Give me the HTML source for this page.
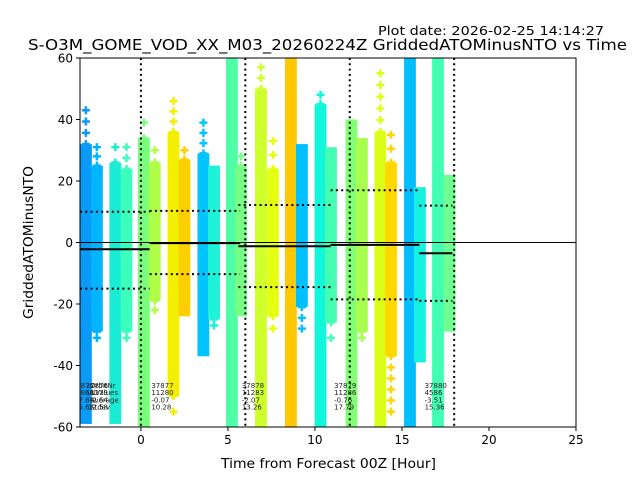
<!DOCTYPE html>
<html><head><meta charset="utf-8">
<style>
html,body{margin:0;padding:0;background:#fff;}
svg{display:block;font-family:"DejaVu Sans","Liberation Sans",sans-serif;}
</style></head>
<body>
<svg id="chart" width="640" height="480" viewBox="0 0 640 480">
  <rect width="640" height="480" fill="#fff"/>
  <text x="604" y="35" font-size="12.5" text-anchor="end" textLength="226" lengthAdjust="spacingAndGlyphs" fill="#000">Plot date: 2026-02-25 14:14:27</text>
  <text x="28" y="50" font-size="15.5" textLength="599" lengthAdjust="spacingAndGlyphs" fill="#000">S-O3M_GOME_VOD_XX_M03_20260224Z GriddedATOMinusNTO vs Time</text>
  <defs><clipPath id="plotclip"><rect x="80" y="58" width="496" height="369"/></clipPath></defs>
  <g id="marks" clip-path="url(#plotclip)"></g>
  <g id="axes"></g>
  <text x="221" y="468" font-size="13" textLength="215" lengthAdjust="spacingAndGlyphs">Time from Forecast 00Z [Hour]</text>
  <text x="0" y="0" font-size="13" textLength="153" lengthAdjust="spacingAndGlyphs" transform="translate(33 319) rotate(-90)">GriddedATOMinusNTO</text>
</svg>
<script>
// ---- data ----
const colHours = [-3.16,-2.53,-1.47,-0.83,0.17,0.8,1.87,2.5,3.59,4.2,5.23,5.75,6.9,7.59,8.62,9.25,10.32,10.92,12.1,12.7,13.76,14.37,15.46,16.03,17.07,17.73];
const colLow   = [-59,-29,-59,-29,-60,-19,-50,-24,-37,-25,-60,-24,-60,-24,-60,-21,-60,-26,-60,-29,-60,-37,-60,-39,-60,-29];
const colHigh  = [32,25,26,24,34,26,36,27,29,25,60,25,50,24,60,32,45,31,40,34,36,26,60,18,60,22];
const colOutHigh = [43,31,31,31,39,30,46,30,39,25,60,28,57,33,60,33,48,31,40,35,55,35,60,18,60,22];
const colOutLow  = [-59,-31,-59,-31,-60,-22,-55,-24,-37,-27,-60,-25,-60,-28,-60,-28,-60,-31,-60,-31,-60,-55,-60,-39,-60,-29];
const colColors = ["#0a9af7","#00b4ff","#18ecd4","#3cffbd","#7aff7d","#b0ff47","#f2f000","#ffce00","#00c4ff","#1ef2d8","#4fffa8","#78ff86","#cfff2c","#e6ff10","#ffc800","#00c0ff","#12f6dc","#44ffb3","#82ff74","#a8ff4f","#dcff19","#ffd800","#00beff","#16f0e0","#42ffb3","#6eff8e"];
const segStart = [-3.5,0.5,5.6,10.9,16.0];
const segEnd   = [0.5,5.7,10.9,16.0,17.9];
const segMean  = [-2.2,-0.2,-1.2,-0.76,-3.51];
const segUpper = [10.0,10.3,12.2,17.0,12.0];
const segLower = [-15.0,-10.3,-14.5,-18.5,-19.0];
const orbitNr  = ["37877","37878","37879","37880"];
const nValues  = ["11280","11283","11286","4586"];
const averages = ["-0.07","-2.07","-0.76","-3.51"];
const stdevs   = ["10.28","13.26","17.79","15.36"];
const labelHours = [0.6,5.8,11.1,16.3];
const vLines = [0,6,12,18];
const xTicks = [0,5,10,15,20,25];
const yTicks = [60,40,20,0,-20,-40,-60];

// ---- scales ----
const X0=80,X1=576,Y0=58,Y1=427, xMin=-3.5,xMax=25, yMin=-60,yMax=60;
const sx = h => X0 + (h-xMin)/(xMax-xMin)*(X1-X0);
const sy = v => Y1 - (v-yMin)/(yMax-yMin)*(Y1-Y0);
const NS="http://www.w3.org/2000/svg";
const marks=document.getElementById('marks');
const axes=document.getElementById('axes');
function mk(tag,attrs,parent){const e=document.createElementNS(NS,tag);for(const k in attrs)e.setAttribute(k,attrs[k]);parent.appendChild(e);return e;}

// columns
const halfW=0.34;
colHours.forEach((h,i)=>{
  const g=mk('g',{},marks);
  
  
  const r=mk('rect',{x:sx(h-halfW),y:sy(colHigh[i]),width:sx(h+halfW)-sx(h-halfW),height:sy(colLow[i])-sy(colHigh[i]),fill:colColors[i]},g);
  
  
  const outs=[];
  if(colOutHigh[i]>colHigh[i]+1){const n=Math.max(1,Math.round((colOutHigh[i]-colHigh[i])/4));for(let k=0;k<=n;k++)outs.push(colHigh[i]+(colOutHigh[i]-colHigh[i])*k/n);}
  if(colOutLow[i]<colLow[i]-1){const n=Math.max(1,Math.round((colLow[i]-colOutLow[i])/4));for(let k=0;k<=n;k++)outs.push(colLow[i]-(colLow[i]-colOutLow[i])*k/n);}
  outs.forEach(v=>{
    const cx=sx(h), cy=sy(v);
    const p=mk('path',{d:`M${cx-4} ${cy}H${cx+4}M${cx} ${cy-4}V${cy+4}`,stroke:colColors[i],'stroke-width':2.5,fill:'none'},g);
    
    
  });
});

// zero line
const zl=mk('line',{x1:X0,x2:X1,y1:sy(0),y2:sy(0),stroke:'#000','stroke-width':1},marks);



// vertical day lines
vLines.forEach(h=>{
  const l=mk('line',{x1:sx(h),x2:sx(h),y1:Y0,y2:Y1,stroke:'#000','stroke-width':2,'stroke-dasharray':'2,3.3'},marks);
  
  
});

// segments
segStart.forEach((s,i)=>{
  const m=mk('line',{x1:sx(s),x2:sx(segEnd[i]),y1:sy(segMean[i]),y2:sy(segMean[i]),stroke:'#000','stroke-width':2},marks);
  
  
  [segUpper[i],segLower[i]].forEach(v=>{
    const d=mk('line',{x1:sx(s),x2:sx(segEnd[i]),y1:sy(v),y2:sy(v),stroke:'#000','stroke-width':2,'stroke-dasharray':'2,3.3'},marks);
    
    
  });
});

// orbit labels
function label(x,lines,anchor){
  const t=mk('text',{x:x,y:388,'font-size':7,fill:'#222','text-anchor':anchor},marks);
  
  
  lines.forEach((s,k)=>{const ts=mk('tspan',{x:x,dy:k?7.2:0},t);ts.textContent=s;});
}
label(sx(-3.5)+14,["37875","1868","-7.88","25.62"],'end');
label(sx(-3.5)+28,["37876","11279","-2.54","12.58"],'end');
label(sx(-3.5)+10,["OrbitNr","NValues","Average","Stdev"],'start');
labelHours.forEach((h,i)=>label(sx(h),[orbitNr[i],nValues[i],averages[i],stdevs[i]],'start'));

// axes frame
const fr=mk('rect',{x:X0,y:Y0,width:X1-X0,height:Y1-Y0,fill:'none',stroke:'#000','stroke-width':1},axes);


xTicks.forEach(v=>{
  const x=sx(v);
  const l=mk('line',{x1:x,x2:x,y1:Y1,y2:Y1+4,stroke:'#000'},axes);
  
  
  const t=mk('text',{x:x,y:Y1+17,'font-size':12,'text-anchor':'middle'},axes);
  t.textContent=v;
  
  
});
yTicks.forEach(v=>{
  const y=sy(v);
  const l=mk('line',{x1:X0-4,x2:X0,y1:y,y2:y,stroke:'#000'},axes);
  
  
  const t=mk('text',{x:X0-7,y:y+4.5,'font-size':12,'text-anchor':'end'},axes);
  t.textContent=v;
  
  
});
</script>
</body></html>
